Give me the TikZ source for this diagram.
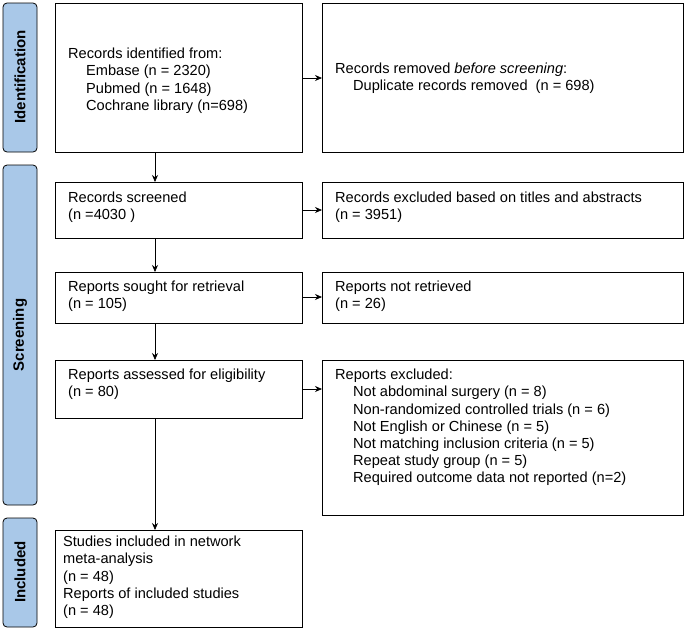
\documentclass[tikz,border=0pt]{standalone}
\usepackage{fontspec}
\setmainfont{Liberation Sans}
\usetikzlibrary{arrows.meta}
\begin{document}
\begin{tikzpicture}[x=1pt,y=-1pt,
  box/.style={draw,line width=0.8pt},
  side/.style={draw,line width=0.8pt,fill=sidebl,rounded corners=4pt},
  txt/.style={anchor=north west,align=left,inner sep=0pt,font=\fontsize{14.6}{17.2}\selectfont},
  stxt/.style={rotate=90,font=\bfseries\fontsize{15}{16}\selectfont},
  arr/.style={-{Stealth[length=7pt,width=6pt]},line width=0.7pt}]
\definecolor{sidebl}{HTML}{A9C8E8}
\useasboundingbox (0,0) rectangle (685,630);
% side bars
\draw[side] (3,3) rectangle (37,152);
\node[stxt] (sid) at (20,77) {Identification};
\draw[side] (3,165) rectangle (37,505);
\node[stxt] (ssc) at (20,335) {Screening};
\draw[side] (3,518) rectangle (37,627);
\node[stxt] (sin) at (20,572) {Included};
% boxes
\draw[box] (55,3) rectangle (302,152); \coordinate (b1r) at (302,78);
\draw[box] (322,3) rectangle (683,152); \coordinate (r1l) at (322,78);
\draw[box] (55,182) rectangle (302,238); \coordinate (b2t) at (155,182); \coordinate (b2) at (155,238); \coordinate (b2r) at (302,210);
\draw[box] (322,182) rectangle (683,238); \coordinate (r2l) at (322,210);
\draw[box] (55,272) rectangle (302,323); \coordinate (b3t) at (155,272); \coordinate (b3) at (155,323); \coordinate (b3r) at (302,297);
\draw[box] (322,272) rectangle (683,323); \coordinate (r3l) at (322,297);
\draw[box] (55,360) rectangle (302,418); \coordinate (b4t) at (155,360); \coordinate (b4) at (155,418); \coordinate (b4r) at (302,389);
\draw[box] (322,360) rectangle (683,515); \coordinate (r4l) at (322,389);
\draw[box] (55,530) rectangle (302,627); \coordinate (b5t) at (155,530);
\coordinate (b1b) at (155,152);
% texts
\node[txt] (t1) at (68,48) {Records identified from:\\\hspace{18pt}Embase (n = 2320)\\\hspace{18pt}Pubmed (n = 1648)\\\hspace{18pt}Cochrane library (n=698)};
\node[txt] (t1r) at (335,63) {Records removed \emph{before screening}:\\\hspace{18pt}Duplicate records removed\ \ (n = 698)};
\node[txt] (t2) at (68,192) {Records screened\\(n =4030 )};
\node[txt] (t2r) at (335,192) {Records excluded based on titles and abstracts\\(n = 3951)};
\node[txt] (t3) at (68,281) {Reports sought for retrieval\\(n = 105)};
\node[txt] (t3r) at (335,281) {Reports not retrieved\\(n = 26)};
\node[txt] (t4) at (68,369) {Reports assessed for eligibility\\(n = 80)};
\node[txt] (t4r) at (335,369) {Reports excluded:\\\hspace{18pt}Not abdominal surgery (n = 8)\\\hspace{18pt}Non-randomized controlled trials (n = 6)\\\hspace{18pt}Not English or Chinese (n = 5)\\\hspace{18pt}Not matching inclusion criteria (n = 5)\\\hspace{18pt}Repeat study group (n = 5)\\\hspace{18pt}Required outcome data not reported (n=2)};
\node[txt] (t5) at (63,536) {Studies included in network\\meta-analysis\\(n = 48)\\Reports of included studies\\(n = 48)};
% arrows
\draw[arr] (b1b) -- (b2t);
\draw[arr] (b2) -- (b3t);
\draw[arr] (b3) -- (b4t);
\draw[arr] (b4) -- (b5t);
\draw[arr] (b1r) -- (r1l);
\draw[arr] (b2r) -- (r2l);
\draw[arr] (b3r) -- (r3l);
\draw[arr] (b4r) -- (r4l);
\end{tikzpicture}
\end{document}
